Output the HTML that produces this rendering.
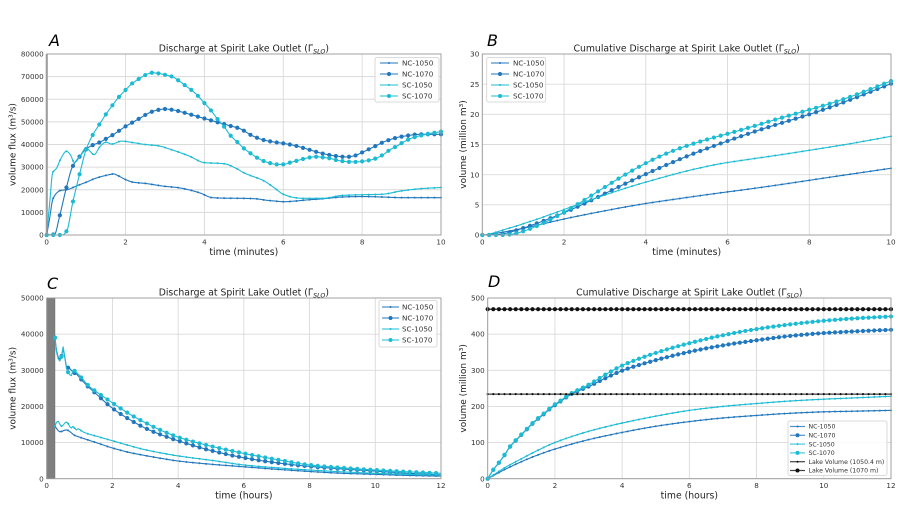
<!DOCTYPE html>
<html><head><meta charset="utf-8">
<style>
html,body{margin:0;padding:0;background:#fff;}
svg{display:block;font-family:"DejaVu Sans","Liberation Sans",sans-serif;}
</style></head>
<body>
<svg id="s" width="902" height="508" viewBox="0 0 902 508" xmlns="http://www.w3.org/2000/svg"></svg>
<script>
(function(){
const NC="#2077bd", SC="#1dbbd3";
let h='';
function interp(pts){
  const n=pts.length,x=pts.map(p=>p[0]),y=pts.map(p=>p[1]);
  const d=[],m=new Array(n);
  for(let i=0;i<n-1;i++) d.push((y[i+1]-y[i])/(x[i+1]-x[i]));
  m[0]=d[0]; m[n-1]=d[n-2];
  for(let i=1;i<n-1;i++){
    if(d[i-1]*d[i]<=0) m[i]=0;
    else{const w1=2*(x[i+1]-x[i])+(x[i]-x[i-1]),w2=(x[i+1]-x[i])+2*(x[i]-x[i-1]);m[i]=(w1+w2)/(w1/d[i-1]+w2/d[i]);}
  }
  return function(t){
    if(t<=x[0])return y[0]; if(t>=x[n-1])return y[n-1];
    let i=0; while(t>x[i+1])i++;
    const hh=x[i+1]-x[i],s=(t-x[i])/hh,s2=s*s,s3=s2*s;
    return (2*s3-3*s2+1)*y[i]+(s3-2*s2+s)*hh*m[i]+(-2*s3+3*s2)*y[i+1]+(s3-s2)*hh*m[i+1];
  };
}
function sample(f,t0,t1,dt){const a=[];const n=Math.round((t1-t0)/dt);for(let i=0;i<=n;i++){const t=t0+i*dt;a.push([t,f(t)]);}return a;}
function fmt(v){return v;}
function panel(p){
  const X=v=>p.L+(v/p.xmax)*(p.R-p.L), Y=v=>p.B-(v/p.ymax)*(p.B-p.T);
  p.X=X;p.Y=Y;
  // grid
  for(let v=0;v<=p.xmax+1e-9;v+=p.xstep){const x=X(v).toFixed(2);h+=`<line x1="${x}" y1="${p.T}" x2="${x}" y2="${p.B}" stroke="#dadada" stroke-width="0.9"/>`;}
  for(let v=0;v<=p.ymax+1e-9;v+=p.ystep){const y=Y(v).toFixed(2);h+=`<line x1="${p.L}" y1="${y}" x2="${p.R}" y2="${y}" stroke="#dadada" stroke-width="0.9"/>`;}
  if(p.band){h+=`<rect x="${p.L}" y="${p.T}" width="${X(p.band)-p.L}" height="${p.B-p.T}" fill="#7f7f7f" stroke="#6a6a6a" stroke-width="0.6"/>`;}
  // tick labels
  for(let v=0;v<=p.xmax+1e-9;v+=p.xstep){h+=`<text x="${X(v).toFixed(2)}" y="${p.B+9.5}" font-size="7.2" fill="#333" text-anchor="middle">${v}</text>`;}
  for(let v=0;v<=p.ymax+1e-9;v+=p.ystep){h+=`<text x="${p.L-3}" y="${(Y(v)+2.6).toFixed(2)}" font-size="7.2" fill="#333" text-anchor="end">${v}</text>`;}
  // labels
  const cx=(p.L+p.R)/2, cy=(p.T+p.B)/2;
  h+=`<text x="${cx}" y="${p.B+20}" font-size="9.3" fill="#222" text-anchor="middle">${p.xl}</text>`;
  h+=`<text transform="translate(${p.yx},${cy}) rotate(-90)" font-size="9" fill="#222" text-anchor="middle">${p.yl}</text>`;
  h+=`<text x="${cx}" y="${p.T-2.5}" font-size="9.3" fill="#222" text-anchor="middle">${p.title} (Γ<tspan font-size="6.3" font-style="italic" dy="2">SLO</tspan><tspan dy="-2">)</tspan></text>`;
  h+=`<text x="${p.lx}" y="${p.ly}" font-size="16" font-style="italic" fill="#000">${p.letter}</text>`;
}
function series(p,pts,mk,color,r){
  let d='';pts.forEach((q,i)=>{d+=(i?'L':'M')+p.X(q[0]).toFixed(2)+' '+p.Y(q[1]).toFixed(2);});
  h+=`<path d="${d}" fill="none" stroke="${color}" stroke-width="1.1" stroke-linejoin="round"/>`;
  mk.forEach(q=>{h+=`<circle cx="${p.X(q[0]).toFixed(2)}" cy="${p.Y(q[1]).toFixed(2)}" r="${r}" fill="${color}"/>`;});
}
function spines(p){
  h+=`<rect x="${p.L}" y="${p.T}" width="${p.R-p.L}" height="${p.B-p.T}" fill="none" stroke="#9a9a9a" stroke-width="0.9"/>`;
}
function legend(x,y,w,hh,rows,fs,dy,lx0,lx1,tx){
  h+=`<rect x="${x}" y="${y}" width="${w}" height="${hh}" rx="2" fill="#fff" fill-opacity="0.85" stroke="#cfcfcf" stroke-width="0.8"/>`;
  rows.forEach((r,i)=>{const cy=r.y;
    h+=`<line x1="${lx0}" y1="${cy}" x2="${lx1}" y2="${cy}" stroke="${r.c}" stroke-width="1.2" stroke-opacity="0.8"/>`;
    h+=`<circle cx="${(lx0+lx1)/2}" cy="${cy}" r="${r.r}" fill="${r.c}"/>`;
    h+=`<text x="${tx}" y="${cy+fs*0.36}" font-size="${fs}" fill="#333">${r.t}</text>`;});
}
// ---------- data A ----------
const A={
 nc1050:[[0,0],[0.08,8000],[0.15,15500],[0.25,18500],[0.35,19700],[0.5,20000],[0.8,22000],[1.0,23300],[1.2,24800],[1.4,25900],[1.6,26700],[1.7,27000],[1.8,26300],[2.0,24500],[2.2,23300],[2.5,22800],[2.8,22000],[3.0,21500],[3.3,21000],[3.6,20000],[3.9,18500],[4.2,16500],[4.5,16300],[5.0,16200],[5.3,16000],[5.6,15300],[5.8,15000],[6.0,14700],[6.3,15000],[6.6,15500],[7.0,16000],[7.5,16800],[8.0,17000],[8.5,16800],[9.0,16500],[10,16500]],
 sc1050:[[0,0],[0.08,15000],[0.15,27500],[0.25,29500],[0.35,33500],[0.5,37000],[0.6,35500],[0.7,32000],[0.85,35000],[1.0,38500],[1.1,37000],[1.2,35500],[1.35,39000],[1.5,41000],[1.65,40200],[1.9,41500],[2.2,40800],[2.5,40000],[2.8,39500],[3.2,37500],[3.6,35000],[4.0,32000],[4.5,31500],[4.8,29500],[5.0,27500],[5.5,24000],[5.8,20500],[6.0,18000],[6.3,16500],[6.5,16200],[7.0,16200],[7.5,17500],[8.0,17800],[8.5,18000],[9.0,19500],[9.5,20500],[10,21000]],
 nc1070:[[0,0],[0.2,300],[0.32,7800],[0.5,21000],[0.65,30000],[0.85,35000],[1.0,38000],[1.2,40000],[1.35,41000],[1.5,42500],[1.7,44500],[2.0,48000],[2.2,50000],[2.4,52000],[2.6,54000],[2.8,55200],[3.0,55700],[3.2,55300],[3.5,54000],[3.8,52500],[4.0,51500],[4.3,50000],[4.6,48500],[4.9,47000],[5.2,44000],[5.5,42000],[5.8,41000],[6.0,40500],[6.3,39500],[6.6,38000],[7.0,36000],[7.3,35000],[7.6,34500],[7.8,35000],[8.0,36500],[8.3,39000],[8.6,41500],[9.0,43500],[9.5,44500],[10,44500]],
 sc1070:[[0,0],[0.4,0],[0.51,1900],[0.66,14300],[0.85,28000],[1.0,37800],[1.17,44300],[1.34,49000],[1.5,53300],[1.67,57400],[1.83,61000],[2.0,64100],[2.16,66900],[2.33,68900],[2.5,70700],[2.67,71700],[2.84,71400],[3.0,70800],[3.18,70000],[3.35,68200],[3.52,66000],[3.69,63800],[3.84,61400],[3.99,58500],[4.16,55200],[4.33,51300],[4.5,47900],[4.65,44200],[4.84,41000],[5.0,38300],[5.17,36100],[5.33,34200],[5.5,32700],[5.68,31700],[5.83,31200],[6.0,31200],[6.17,32000],[6.34,32800],[6.5,33600],[6.68,34300],[6.85,34600],[7.0,34300],[7.18,33900],[7.35,33100],[7.52,32600],[7.7,32300],[7.86,32300],[8.03,32600],[8.2,33100],[8.37,34000],[8.54,35600],[8.7,37600],[8.88,39300],[9.05,41100],[9.2,42400],[9.38,43500],[9.55,44200],[9.72,44900],[9.9,45400],[10,45700]]
};
const order=[['nc1050',NC,1.0],['nc1070',NC,2.1],['sc1050',SC,1.0],['sc1070',SC,2.1]];
// Panel A
const pA={L:46.7,R:441,T:54,B:235,xmax:10,xstep:2,ymax:80000,ystep:10000,xl:'time (minutes)',yl:'volume flux (m³/s)',yx:15.5,title:'Discharge at Spirit Lake Outlet',letter:'A',lx:49,ly:46};
panel(pA);
h+=`<rect x="${pA.L-1}" y="${pA.T}" width="2.2" height="${pA.B-pA.T}" fill="#a8a8a8"/>`;
order.forEach(o=>{const f=interp(A[o[0]]);const s=sample(f,0,10,1/60);series(pA,s,s.filter((q,i)=>i%10==0),o[1],o[2]);});
spines(pA);
legend(375,57.5,64,44.5,[{y:63,c:NC,r:1,t:'NC-1050'},{y:74,c:NC,r:2,t:'NC-1070'},{y:85,c:SC,r:1,t:'SC-1050'},{y:96,c:SC,r:2,t:'SC-1070'}],7.2,11,380,398,402);
// Panel B
const pB={L:482.3,R:891,T:54,B:235,xmax:10,xstep:2,ymax:30,ystep:5,xl:'time (minutes)',yl:'volume (million m³)',yx:466,title:'Cumulative Discharge at Spirit Lake Outlet',letter:'B',lx:487,ly:46};
panel(pB);
order.forEach(o=>{const f=interp(A[o[0]]);const dt=1/120;let c=0;const s=[[0,0]];for(let i=1;i<=1200;i++){const t=i*dt;c+=(f(t-dt)+f(t))/2*dt*60/1e6;s.push([t,c]);}series(pB,s,s.filter((q,i)=>i%20==0),o[1],o[2]);});
spines(pB);
legend(486.7,57.5,59,44.5,[{y:63,c:NC,r:1,t:'NC-1050'},{y:74,c:NC,r:2,t:'NC-1070'},{y:85,c:SC,r:1,t:'SC-1050'},{y:96,c:SC,r:2,t:'SC-1070'}],7.2,11,491,509,513);
// Panel C
const C={
 nc1050:[[0.25,14500],[0.4,13000],[0.6,13500],[0.85,12000],[1.0,11500],[1.5,10000],[2,8500],[2.5,7300],[3,6400],[3.5,5600],[4,4900],[5,4000],[6,3300],[7,2600],[8,2000],[9,1500],[10,1200],[11,900],[12,700]],
 nc1070:[[0.25,39000],[0.33,34000],[0.42,33000],[0.5,36000],[0.6,31000],[0.7,30500],[0.8,29500],[0.9,29000],[1.0,28000],[1.2,26000],[1.5,23500],[2,19500],[2.5,16500],[3,14000],[3.5,12100],[4,10500],[5,7800],[6,5800],[7,4400],[8,3400],[9,2700],[10,2100],[11,1500],[12,1100]],
 sc1050:[[0.25,14500],[0.33,16000],[0.45,14500],[0.6,15700],[0.75,14000],[0.8,14500],[0.9,13500],[0.95,13800],[1.1,13000],[1.2,12600],[1.5,11800],[2,10500],[2.5,9200],[3,8000],[3.5,7100],[4,6300],[5,5100],[6,3800],[7,3000],[8,2400],[9,1900],[10,1500],[11,1200],[12,1000]],
 sc1070:[[0.25,39000],[0.33,33500],[0.42,32500],[0.5,36500],[0.6,30500],[0.75,28500],[0.8,30000],[0.95,29000],[1.1,27500],[1.3,25500],[1.6,23500],[2,21000],[2.5,18000],[3,15500],[3.5,13300],[4,11500],[5,9000],[6,7000],[7,5300],[8,3800],[9,3000],[10,2400],[11,1900],[12,1500]]
};
const pC={L:46.7,R:441,T:298,B:478.7,xmax:12,xstep:2,ymax:50000,ystep:10000,xl:'time (hours)',yl:'volume flux (m³/s)',yx:15.5,title:'Discharge at Spirit Lake Outlet',letter:'C',lx:47,ly:289,band:0.25};
panel(pC);
order.forEach(o=>{const f=interp(C[o[0]]);const s=sample(f,0.25,12,0.05);series(pC,s,s.filter((q,i)=>i%4==0),o[1],o[2]);});
spines(pC);
legend(379,300.5,58,46.5,[{y:307,c:NC,r:1,t:'NC-1050'},{y:318,c:NC,r:2,t:'NC-1070'},{y:329,c:SC,r:1,t:'SC-1050'},{y:340,c:SC,r:2,t:'SC-1070'}],7.2,11,382,399,402);
// Panel D
const early=[[0,0],[0.17,25],[0.35,46],[0.52,68],[0.66,88],[0.84,106],[1.01,122],[1.18,138],[1.34,153],[1.5,166],[1.69,180],[1.85,193],[2.02,205],[2.2,216],[2.35,226],[2.53,236]];
const D={
 nc1050:[[0,0],[0.5,25],[1,47],[1.5,66],[2,82],[3,108],[4,128],[5,145],[6,158],[7,168],[8,175],[9,181],[10,185],[11,187],[12,189]],
 nc1070:early.concat([[3,255],[3.5,278],[4,299],[5,328],[6,351],[7,369],[8,383],[9,395],[10,403],[11,408],[12,412]]),
 sc1050:[[0,0],[0.5,30],[1,55],[1.5,79],[2,100],[3,131],[4,154],[5,173],[6,189],[7,200],[8,208],[9,215],[10,220],[11,224],[12,228]],
 sc1070:early.map(q=>[q[0],q[1]*1.01]).concat([[3,260],[3.5,288],[4,313],[5,348],[6,375],[7,397],[8,414],[9,427],[10,437],[11,444],[12,449]])
};
const pD={L:487.7,R:891,T:298,B:478.7,xmax:12,xstep:2,ymax:500,ystep:100,xl:'time (hours)',yl:'volume (million m³)',yx:466,title:'Cumulative Discharge at Spirit Lake Outlet',letter:'D',lx:488,ly:287};
panel(pD);
order.forEach(o=>{const f=interp(D[o[0]]);const s=sample(f,0,12,1/60);series(pD,s,s.filter((q,i)=>i%10==0),o[1],o[2]);});
[[234,1.1],[469,2.1]].forEach(l=>{const s=sample(()=>l[0],0,12,1/6);series(pD,s,s,'#111',l[1]);});
spines(pD);
legend(788,421,99,54.5,[{y:426.5,c:NC,r:1,t:'NC-1050'},{y:435.3,c:NC,r:2,t:'NC-1070'},{y:444.1,c:SC,r:1,t:'SC-1050'},{y:452.9,c:SC,r:2,t:'SC-1070'},{y:461.7,c:'#111',r:1,t:'Lake Volume (1050.4 m)'},{y:470.5,c:'#111',r:2,t:'Lake Volume (1070 m)'}],6.2,8.8,790,805,808.5);
document.getElementById('s').innerHTML=h;
})();
</script>
</body></html>
